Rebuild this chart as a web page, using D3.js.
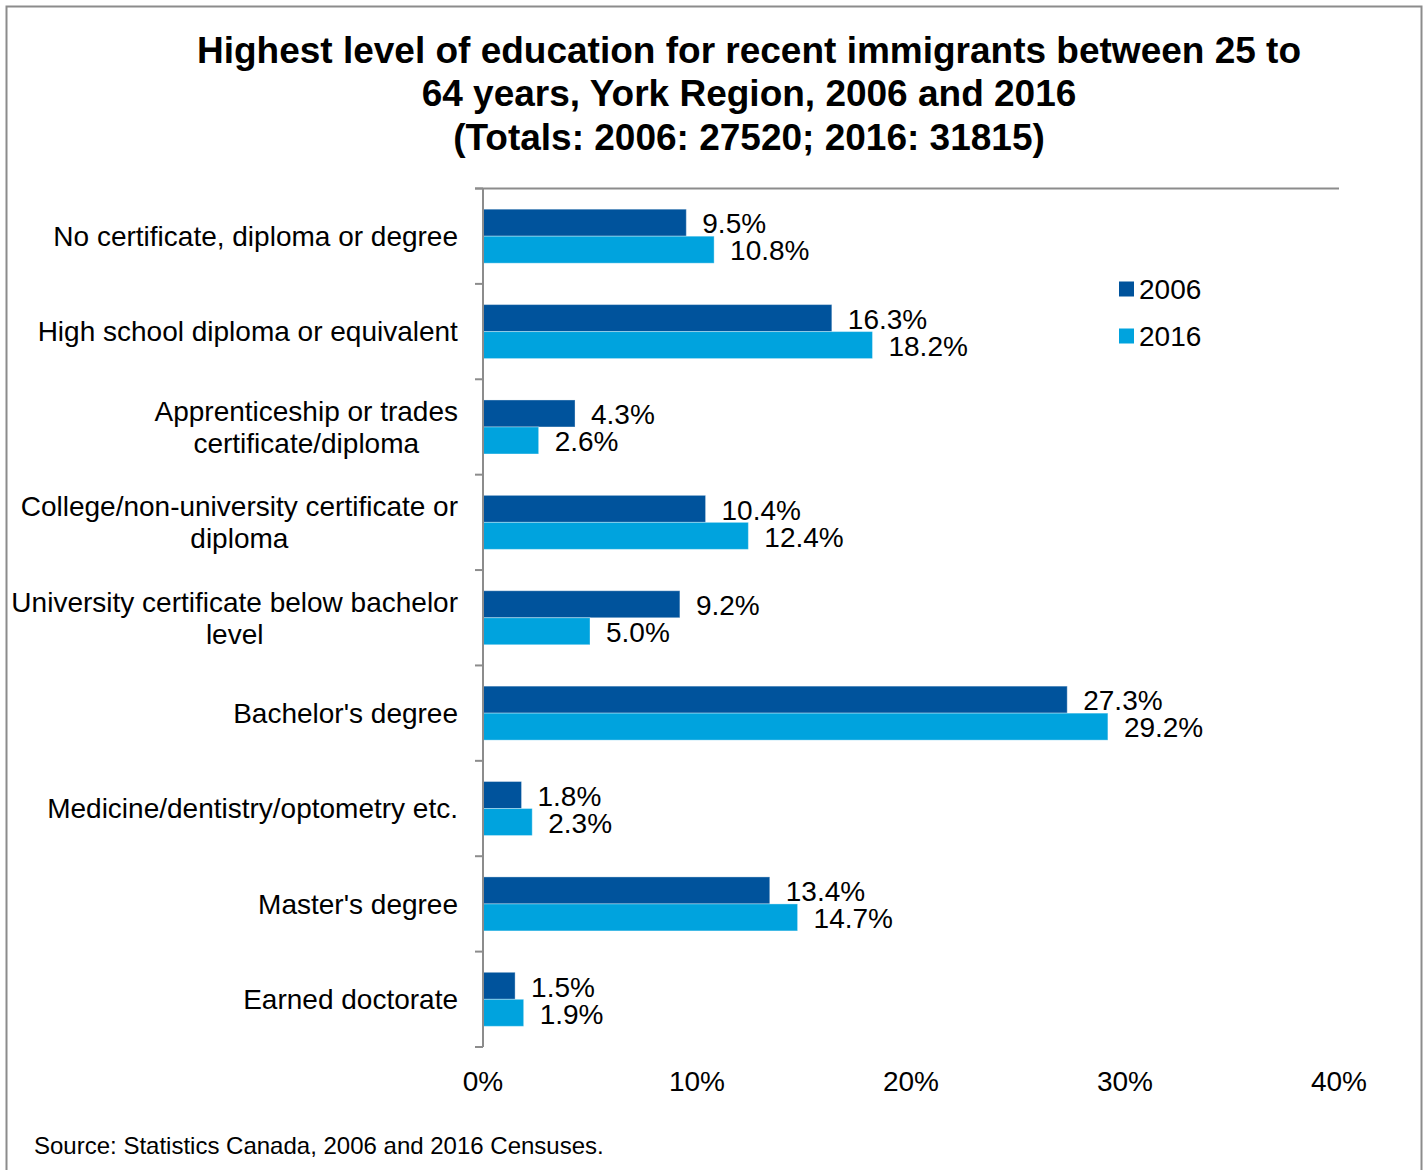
<!DOCTYPE html>
<html>
<head>
<meta charset="utf-8">
<script src="https://cdn.jsdelivr.net/npm/d3@7"></script>
<style>
  html, body { margin: 0; padding: 0; background: #fff; }
  svg { display: block; font-family: "Liberation Sans", Arial, sans-serif; }
</style>
</head>
<body>
<svg id="chart" width="1427" height="1170"></svg>
<script>
// Education categories (top to bottom), each label split into its display lines
const categories = [
  ["No certificate, diploma or degree"],
  ["High school diploma or equivalent"],
  ["Apprenticeship or trades", "certificate/diploma"],
  ["College/non-university certificate or", "diploma"],
  ["University certificate below bachelor", "level"],
  ["Bachelor's degree"],
  ["Medicine/dentistry/optometry etc."],
  ["Master's degree"],
  ["Earned doctorate"]
];
const series = ["2006", "2016"];
const values2006 = [9.5, 16.3, 4.3, 10.4, 9.2, 27.3, 1.8, 13.4, 1.5];
const values2016 = [10.8, 18.2, 2.6, 12.4, 5.0, 29.2, 2.3, 14.7, 1.9];
const xTicks = [0, 10, 20, 30, 40];
const titleLines = [
  "Highest level of education for recent immigrants between 25 to",
  "64 years, York Region, 2006 and 2016",
  "(Totals: 2006: 27520; 2016: 31815)"
];
const sourceNote = "Source: Statistics Canada, 2006 and 2016 Censuses.";
const colors = { "2006": "#00539c", "2016": "#00a3de" };

const svg = d3.select("#chart");

// Outer frame
svg.append("rect")
  .attr("x", 6.5).attr("y", 6.5)
  .attr("width", 1415).attr("height", 1180)
  .attr("fill", "none").attr("stroke", "#8c8c8c").attr("stroke-width", 2);

// Title
svg.append("g").selectAll("text")
  .data(titleLines).join("text")
  .attr("x", 749).attr("y", (d, i) => 50 + i * 43.5)
  .attr("dy", "0.35em")
  .attr("text-anchor", "middle")
  .attr("font-weight", "bold").attr("font-size", 37)
  .attr("fill", "#000")
  .text(d => d);

const plot = { left: 483, right: 1339, top: 188.5, bottom: 1047 };

const x = d3.scaleLinear().domain([0, 40]).range([plot.left, plot.right]);
const y = d3.scaleBand().domain(d3.range(categories.length))
  .range([plot.top, plot.bottom]).paddingInner(0).paddingOuter(0);
const barH = 27;
const sub = d3.scaleBand().domain(series)
  .range([y.bandwidth() / 2 - barH, y.bandwidth() / 2 + barH]);

const rows = categories.map((c, i) => ({
  i, label: c,
  vals: [{ s: "2006", v: values2006[i] }, { s: "2016", v: values2016[i] }]
}));

// Bars
const g = svg.append("g");
const groups = g.selectAll("g.row").data(rows).join("g")
  .attr("class", "row")
  .attr("transform", d => `translate(0,${y(d.i)})`);

groups.selectAll("rect").data(d => d.vals).join("rect")
  .attr("x", x(0))
  .attr("y", d => sub(d.s))
  .attr("width", d => x(d.v) - x(0))
  .attr("height", sub.bandwidth())
  .attr("fill", d => colors[d.s])
  .attr("stroke", "#fff").attr("stroke-opacity", 0.35).attr("stroke-width", 1);

// Value labels
groups.selectAll("text.val").data(d => d.vals).join("text")
  .attr("class", "val")
  .attr("x", d => x(d.v) + 16)
  .attr("y", d => sub(d.s) + sub.bandwidth() / 2 + 1)
  .attr("dy", "0.35em")
  .attr("font-size", 28).attr("fill", "#000")
  .text(d => d.v.toFixed(1) + "%");

// Category axis: line along the left plus ticks at band boundaries
const axisColor = "#8c8c8c";
svg.append("line")
  .attr("x1", plot.left).attr("x2", plot.left)
  .attr("y1", plot.top).attr("y2", plot.bottom)
  .attr("stroke", axisColor).attr("stroke-width", 2);
svg.append("line")
  .attr("x1", plot.left - 8).attr("x2", plot.right)
  .attr("y1", plot.top).attr("y2", plot.top)
  .attr("stroke", axisColor).attr("stroke-width", 2);
svg.append("g").selectAll("line")
  .data(d3.range(categories.length + 1)).join("line")
  .attr("x1", plot.left - 8).attr("x2", plot.left)
  .attr("y1", i => i < categories.length ? y(i) : plot.bottom)
  .attr("y2", i => i < categories.length ? y(i) : plot.bottom)
  .attr("stroke", axisColor).attr("stroke-width", 2);

// Category labels: centred block, right edge at the axis
const catG = svg.append("g");
rows.forEach(r => {
  const cy = y(r.i) + y.bandwidth() / 2;
  const n = r.label.length;
  const t = catG.append("text")
    .attr("font-size", 28).attr("fill", "#000")
    .attr("text-anchor", "middle");
  r.label.forEach((line, k) => {
    t.append("tspan").attr("x", 0)
      .attr("y", cy + (k - (n - 1) / 2) * 32)
      .attr("dy", "0.35em")
      .text(line);
  });
  const w = t.node().getBBox().width;
  t.attr("transform", `translate(${458 - w / 2},0)`);
});

// Value axis tick labels
svg.append("g").selectAll("text")
  .data(xTicks).join("text")
  .attr("x", d => x(d)).attr("y", 1081)
  .attr("dy", "0.35em")
  .attr("text-anchor", "middle")
  .attr("font-size", 28).attr("fill", "#000")
  .text(d => d + "%");

// Legend
const leg = svg.append("g").selectAll("g").data(series).join("g")
  .attr("transform", (d, i) => `translate(1119,${289 + i * 47})`);
leg.append("rect")
  .attr("x", 0).attr("y", -7.5).attr("width", 15).attr("height", 15)
  .attr("fill", d => colors[d]);
leg.append("text")
  .attr("x", 20).attr("y", 0).attr("dy", "0.35em")
  .attr("font-size", 28).attr("fill", "#000")
  .text(d => d);

// Source note
svg.append("text")
  .attr("x", 34).attr("y", 1146).attr("dy", "0.35em")
  .attr("font-size", 24).attr("fill", "#000")
  .text(sourceNote);
</script>
</body>
</html>
